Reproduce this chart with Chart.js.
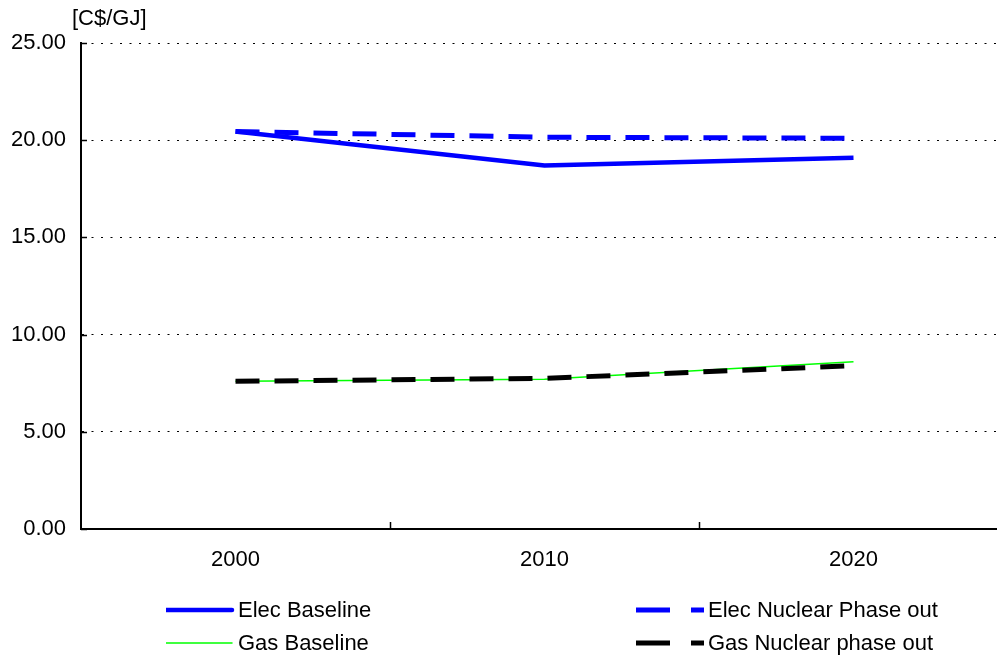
<!DOCTYPE html>
<html>
<head>
<meta charset="utf-8">
<script src="https://cdn.jsdelivr.net/npm/chart.js@4/dist/chart.umd.min.js"></script>
<style>
  html, body { margin: 0; padding: 0; background: #fff; }
  body { width: 997px; height: 657px; overflow: hidden; position: relative;
         font-family: "Liberation Sans", Arial, sans-serif; color: #000; }
  #wrap { position: absolute; left: 0; top: 0; width: 1008px; height: 600px; }
  #unit { position: absolute; left: 72px; top: 6px; font-size: 22px; line-height: 24px; }
  .lg { position: absolute; font-size: 22px; line-height: 24px; white-space: nowrap; }
  .lg svg { position: absolute; top: 0; }
</style>
</head>
<body>
<div id="wrap"><canvas id="c" width="1008" height="600"></canvas></div>
<div id="unit">[C$/GJ]</div>
<div id="legend"></div>
<script>
// Years on the category axis
const years = ['2000', '2010', '2020'];

// Prices in C$/GJ
const elecBaseline = [20.45, 18.70, 19.10];
const elecNuclearPhaseOut = [20.45, 20.15, 20.10];
const gasBaseline = [7.60, 7.70, 8.60];
const gasNuclearPhaseOut = [7.60, 7.75, 8.40];

// Value axis ticks
const yTicks = [0, 5, 10, 15, 20, 25];

const seriesNames = ['Elec Baseline', 'Elec Nuclear Phase out', 'Gas Baseline', 'Gas Nuclear phase out'];

const FONT = { family: '"Liberation Sans", Arial, sans-serif', size: 22 };

// Short tick marks drawn inward from both axes
const innerTicks = {
  id: 'innerTicks',
  afterDraw(chart) {
    const { ctx, chartArea: a, scales: { x, y } } = chart;
    ctx.save();
    ctx.strokeStyle = '#000';
    ctx.lineWidth = 1.5;
    ctx.beginPath();
    for (let i = 0; i < years.length - 1; i++) {
      const px = Math.round((x.getPixelForTick(i) + x.getPixelForTick(i + 1)) / 2) + 0.5;
      ctx.moveTo(px, a.bottom);
      ctx.lineTo(px, a.bottom - 7);
    }
    yTicks.forEach(v => {
      const py = Math.round(y.getPixelForValue(v)) + 0.5;
      ctx.moveTo(a.left, py);
      ctx.lineTo(a.left + 6, py);
    });
    ctx.stroke();
    ctx.restore();
  }
};

const chart = new Chart(document.getElementById('c'), {
  type: 'line',
  data: {
    labels: years,
    datasets: [
      { label: seriesNames[1], data: elecNuclearPhaseOut, borderColor: '#0000FF', borderWidth: 5,
        borderDash: [24, 15], order: 0 },
      { label: seriesNames[3], data: gasNuclearPhaseOut, borderColor: '#000000', borderWidth: 5,
        borderDash: [24, 15], order: 1 },
      { label: seriesNames[0], data: elecBaseline, borderColor: '#0000FF', borderWidth: 4.5, order: 2 },
      { label: seriesNames[2], data: gasBaseline, borderColor: '#00FF00', borderWidth: 1.5, order: 3 }
    ]
  },
  options: {
    responsive: false,
    animation: false,
    devicePixelRatio: 1,
    layout: { padding: { top: 43, right: 0, bottom: 0, left: 0 } },
    elements: {
      point: { radius: 0, hoverRadius: 0 },
      line: { tension: 0, fill: false, borderCapStyle: 'butt', borderJoinStyle: 'round' }
    },
    plugins: { legend: { display: false }, tooltip: { enabled: false } },
    scales: {
      x: {
        type: 'category',
        offset: true,
        grid: { display: true, drawOnChartArea: false, drawTicks: false },
        border: { display: true, color: '#000', width: 2 },
        ticks: { color: '#000', font: FONT, padding: 18, maxRotation: 0 },
        afterFit(s) { s.height = 71; }
      },
      y: {
        min: 0, max: 25,
        afterBuildTicks(s) { s.ticks = yTicks.map(v => ({ value: v })); },
        grid: {
          color: c => (c.tick && c.tick.value === 0) ? 'rgba(0,0,0,0)' : '#000',
          lineWidth: 1,
          drawTicks: false
        },
        border: { display: true, color: '#000', width: 2, dash: [2, 7.5] },
        ticks: { color: '#000', font: FONT, padding: 15, callback: v => Number(v).toFixed(2) },
        afterFit(s) { s.width = 81; }
      }
    }
  },
  plugins: [innerTicks]
});

// Legend built from the chart's datasets
const legendPos = {
  'Elec Baseline': { left: 166, top: 598 },
  'Elec Nuclear Phase out': { left: 636, top: 598 },
  'Gas Baseline': { left: 166, top: 631 },
  'Gas Nuclear phase out': { left: 636, top: 631 }
};
const legend = document.getElementById('legend');
chart.data.datasets.forEach(ds => {
  const p = legendPos[ds.label];
  const item = document.createElement('div');
  item.className = 'lg';
  item.style.left = p.left + 'px';
  item.style.top = p.top + 'px';
  item.style.paddingLeft = '72px';
  const w = ds.borderWidth;
  let line;
  if (ds.borderDash) {
    line = `<line x1="0" y1="12" x2="34" y2="12" stroke="${ds.borderColor}" stroke-width="${w}"/>` +
           `<line x1="55" y1="12" x2="68" y2="12" stroke="${ds.borderColor}" stroke-width="${w}"/>`;
  } else {
    line = `<line x1="0" y1="12" x2="66" y2="12" stroke="${ds.borderColor}" stroke-width="${w}" stroke-linecap="round"/>`;
  }
  item.innerHTML = `<svg width="70" height="24" style="left:0">${line}</svg><span>${ds.label}</span>`;
  legend.appendChild(item);
});
</script>
</body>
</html>
